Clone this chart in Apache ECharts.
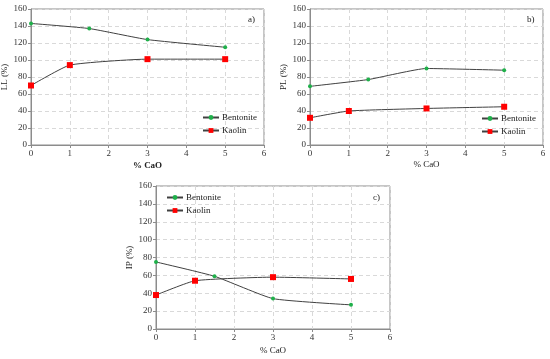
<!DOCTYPE html>
<html><head><meta charset="utf-8">
<script src="https://cdn.jsdelivr.net/npm/echarts@6/dist/echarts.min.js"></script>
<style>html,body{margin:0;padding:0;background:#fff}#c{width:550px;height:359px}</style>
</head><body><div id="c"></div>
<script>
var cao_B = [0, 1.5, 3, 5];
var cao_K = [0, 1, 3, 5];
var LL_B = [143, 137, 124, 115];
var LL_K = [70, 94, 101, 101];
var PL_B = [69, 77, 90, 88];
var PL_K = [32, 40, 43, 45];
var IP_B = [75, 59, 34, 27];
var IP_K = [38, 54, 58, 56];
var yLabels = ['LL (%)', 'PL (%)', 'IP (%)'];
var panels = ['a)', 'b)', 'c)'];
var names = ['Bentonite', 'Kaolin'];

function pairs(xs, ys){ return xs.map(function(x,i){ return [x, ys[i]]; }); }
var F = 'Liberation Serif';
var grids = [
  {left:31, top:9, width:233, height:136},
  {left:310, top:9, width:233, height:136},
  {left:156, top:186, width:234, height:143}
];
var xAxes = [], yAxes = [], series = [];
var dataB = [LL_B, PL_B, IP_B], dataK = [LL_K, PL_K, IP_K];
var xBold = ['bold','normal','normal'];
var xGap = [16, 15, 17];
for (var i=0;i<3;i++){
  grids[i].show = true; grids[i].borderColor = '#8c8c8c'; grids[i].borderWidth = 1;
  grids[i].outerBoundsMode = 'none'; grids[i].containLabel = false;
  xAxes.push({type:'value', gridIndex:i, min:0, max:6, interval:1, name:'% CaO', nameLocation:'middle', nameGap: xGap[i],
    nameTextStyle:{fontFamily:F, fontSize:9, color:'#222', fontWeight:xBold[i]},
    axisLine:{lineStyle:{color:'#8c8c8c'}}, axisTick:{show:true, inside:false, length:3, lineStyle:{color:'#8c8c8c'}},
    axisLabel:{fontFamily:F, fontSize:9, color:'#333', margin:4},
    splitLine:{show:true, lineStyle:{type:[4,3], color:'#d9d9d9'}}});
  yAxes.push({type:'value', gridIndex:i, min:0, max:160, interval:20, name:yLabels[i], nameLocation:'middle', nameGap:22,
    nameTextStyle:{fontFamily:F, fontSize:9, color:'#222'},
    axisLine:{show:true, lineStyle:{color:'#8c8c8c'}}, axisTick:{show:true, inside:false, length:3, lineStyle:{color:'#8c8c8c'}},
    axisLabel:{fontFamily:F, fontSize:9, color:'#333', margin:4},
    splitLine:{show:true, lineStyle:{type:[4,3], color:'#d9d9d9'}}});
  series.push({name:names[0], type:'line', xAxisIndex:i, yAxisIndex:i, data:pairs(cao_B, dataB[i]), smooth:0.15,
    symbol:'circle', symbolSize:4, itemStyle:{color:'#1fb04a'}, lineStyle:{color:'#404040', width:1}});
  series.push({name:names[1], type:'line', xAxisIndex:i, yAxisIndex:i, data:pairs(cao_K, dataK[i]), smooth:0.15,
    symbol:'rect', symbolSize:6, itemStyle:{color:'#ff0000'}, lineStyle:{color:'#404040', width:1}});
}
var legendPos = [{left:202, top:113}, {left:481, top:114}, {left:166, top:193}];
var legends = legendPos.map(function(p,i){
  return {data:names, orient:'vertical', left:p.left, top:p.top, itemGap:4, itemWidth:16, itemHeight:6,
    textStyle:{fontFamily:F, fontSize:9, color:'#222', padding:[0,0,0,-2]}, padding:0,
    selectedMode:false};
});
var titles = [{text:panels[0], left:248, top:15}, {text:panels[1], left:527, top:15}, {text:panels[2], left:373, top:193}]
  .map(function(t){ t.textStyle={fontFamily:F, fontSize:9, fontWeight:'normal', color:'#222'}; t.padding=0; return t; });
var chart = echarts.init(document.getElementById('c'));
chart.setOption({animation:false, title:titles, grid:grids, xAxis:xAxes, yAxis:yAxes, legend:legends, series:series});
</script></body></html>
